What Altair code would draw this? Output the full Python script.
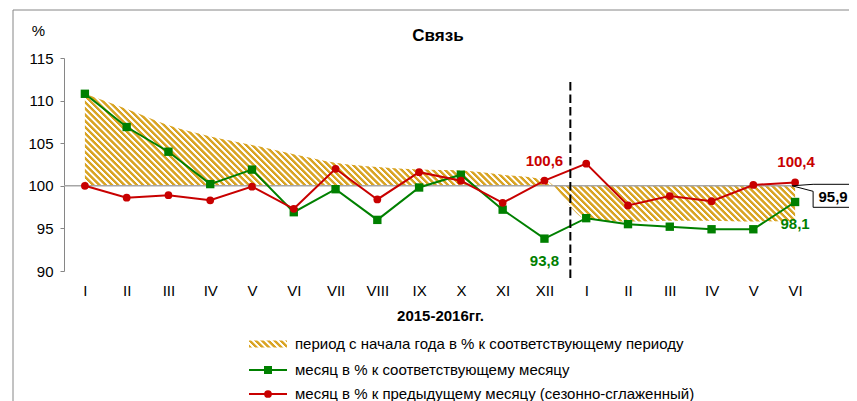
import altair as alt
import pandas as pd

# ---------------- data ----------------
months = ["I", "II", "III", "IV", "V", "VI", "VII", "VIII", "IX", "X", "XI", "XII",
          "I", "II", "III", "IV", "V", "VI"]
ytd = [110.8, 109.0, 107.1, 105.8, 104.8, 103.7, 102.7, 102.2, 101.9, 101.8, 101.3, 100.7,
       96.1, 95.8, 95.9, 95.9, 95.8, 95.9]
month_yoy = [110.8, 106.9, 104.0, 100.2, 101.9, 96.9, 99.6, 96.0, 99.8, 101.3, 97.2, 93.8,
             96.2, 95.5, 95.2, 94.9, 94.9, 98.1]
month_mom = [100.0, 98.6, 98.9, 98.3, 99.9, 97.3, 102.0, 98.4, 101.6, 100.6, 98.0, 100.6,
             102.6, 97.7, 98.8, 98.2, 100.1, 100.4]
legend_labels = ["период с начала года в % к соответствующему периоду",
                 "месяц в % к соответствующему месяцу",
                 "месяц в % к предыдущему месяцу (сезонно-сглаженный)"]
chart_title = "Связь"
x_title = "2015-2016гг."
y_title = "%"
y_ticks = [90, 95, 100, 105, 110, 115]
baseline_value = 100

# ---------------- style / layout ----------------
W, H = 752, 213
Y_MIN, Y_MAX = 90, 115
N = len(months)
STEP = W / N
PXU = H / (Y_MAX - Y_MIN)
GOLD = "#D9A424"
GREEN = "#008000"
RED = "#C80000"
GRAY = "#868686"
FONT = "Liberation Sans"
DIVIDER = 11.62  # year divider position (between XII and I)
TOTAL_W, TOTAL_H = 841, 393


def hatch(w, h, period=4.4):
    """Backslash diagonal stripes as a linear gradient over the mark's bbox."""
    r = h / w
    k = (1 + r) / (1 + r * r)
    d = (w + h) / 2 ** 0.5
    n = d / period
    stops = []
    i = 0
    while i < n:
        for frac, col in [(0.0, GOLD), (0.42, GOLD), (0.58, "#FFFFFF"), (0.88, "#FFFFFF")]:
            off = (i + frac) / n
            if off <= 1:
                stops.append(alt.GradientStop(color=col, offset=off))
        i += 1
    return alt.LinearGradient(gradient="linear", stops=stops,
                              x1=0, y1=1, x2=k, y2=1 - k * r)


xs = alt.Scale(domain=[-0.5, N - 0.5], nice=False, zero=False)
ys = alt.Scale(domain=[Y_MIN, Y_MAX], nice=False, zero=False)
label_expr = "[" + ",".join(f"'{m}'" for m in months) + "][datum.value]"
x_axis = alt.Axis(values=list(range(N)), labelExpr=label_expr, ticks=False, tickSize=0,
                  domain=False, grid=False, labelPadding=12, labelFontSize=15,
                  labelColor="black", labelFlush=False, labelOverlap=False,
                  title=x_title, titleFontSize=15, titleFontWeight="bold",
                  titlePadding=10, titleColor="black")
y_axis = alt.Axis(values=y_ticks, grid=False, tickSize=4, tickColor=GRAY, domainColor=GRAY,
                  labelFontSize=15, labelPadding=7, labelColor="black",
                  title=y_title, titleAngle=0, titleX=-26, titleY=-28, titleAlign="center",
                  titleBaseline="middle", titleFontSize=15, titleFontWeight="normal",
                  titleColor="black")


def X(field="idx"):
    return alt.X(f"{field}:Q", scale=xs, axis=x_axis)


def Y(field):
    return alt.Y(f"{field}:Q", scale=ys, axis=y_axis)


df = pd.DataFrame({"idx": list(range(N)), "month": months, "ytd": ytd,
                   "yoy": month_yoy, "mom": month_mom})
base = alt.Chart(df)
one = alt.Chart(pd.DataFrame({"a": [0]}))

# area (period since start of year)
ytd_min = min(min(ytd), baseline_value)
ytd_max = max(max(ytd), baseline_value)
area = base.mark_area(
    color=hatch((N - 1) * STEP, (ytd_max - ytd_min) * PXU), interpolate="monotone"
).encode(x=X(), y=Y("ytd"), y2=alt.datum(baseline_value))

# baseline 100
base_line = alt.Chart(pd.DataFrame({"v": [baseline_value]})).mark_rule(
    color="#A6A6A6", strokeWidth=1.5).encode(y=Y("v"))

green_line = base.mark_line(color=GREEN, strokeWidth=2).encode(x=X(), y=Y("yoy"))
green_pts = base.mark_square(color=GREEN, size=70, opacity=1).encode(x=X(), y=Y("yoy"))
red_line = base.mark_line(color=RED, strokeWidth=2).encode(x=X(), y=Y("mom"))
red_pts = base.mark_circle(color=RED, size=60, opacity=1).encode(x=X(), y=Y("mom"))

divider = one.mark_rule(color="black", strokeWidth=2, strokeDash=[8.5, 4]).encode(
    x=alt.datum(DIVIDER), y=alt.value(24), y2=alt.value(221))


def ann(i, series, color, dx, dy):
    v = df[series][i]
    d = pd.DataFrame({"idx": [i], "v": [v], "t": [f"{v:.1f}".replace(".", ",")]})
    return alt.Chart(d).mark_text(color=color, fontSize=15, fontWeight="bold",
                                  dx=dx, dy=dy).encode(x=X(), y=Y("v"), text="t:N")


labels = [
    ann(11, "mom", RED, 0, -20),
    ann(11, "yoy", GREEN, 0, 22),
    ann(17, "mom", RED, 1, -20),
    ann(17, "yoy", GREEN, 0, 22),
]

# callout for last ytd value
last = N - 1
call_df = pd.DataFrame({"idx": [last], "v": [baseline_value],
                        "t": [f"{ytd[last]:.1f}".replace(".", ",")]})
callout = alt.Chart(call_df).mark_point(
    shape="M-3,0 L18,-1.5 L66,-1.5 L66,21.5 L18,21.5 L18,5.5 Z",
    size=4, filled=True, fill="white", stroke="black", strokeWidth=1, opacity=1
).encode(x=X(), y=Y("v"))
callout_text = alt.Chart(call_df).mark_text(
    color="black", fontSize=15, fontWeight="bold", dx=38, dy=11.5
).encode(x=X(), y=Y("v"), text="t:N")

# chart title as text
title_mark = one.mark_text(fontSize=17, fontWeight="bold", color="black",
                           baseline="alphabetic", align="center").encode(
    x=alt.value(W / 2 - 2), y=alt.value(-17), text=alt.value(chart_title))

# outer frame
frame = one.mark_rect(fillOpacity=0, stroke=GRAY, strokeWidth=1).encode(
    x=alt.value(-51), x2=alt.value(950), y=alt.value(-48), y2=alt.value(450))

# legend
LX0, LX1, LTX = 185, 223, 231
LY = [286, 312, 336]
leg_hatch = one.mark_rect(color=hatch(LX1 - LX0, 7)).encode(
    x=alt.value(LX0), x2=alt.value(LX1), y=alt.value(LY[0] - 3.5), y2=alt.value(LY[0] + 3.5))
leg_g_line = one.mark_rule(color=GREEN, strokeWidth=2).encode(
    x=alt.value(LX0), x2=alt.value(LX1), y=alt.value(LY[1]))
leg_g_pt = one.mark_square(color=GREEN, size=64, opacity=1).encode(
    x=alt.value((LX0 + LX1) / 2), y=alt.value(LY[1]))
leg_r_line = one.mark_rule(color=RED, strokeWidth=2).encode(
    x=alt.value(LX0), x2=alt.value(LX1), y=alt.value(LY[2]))
leg_r_pt = one.mark_circle(color=RED, size=60, opacity=1).encode(
    x=alt.value((LX0 + LX1) / 2), y=alt.value(LY[2]))
leg_texts = [
    one.mark_text(align="left", baseline="middle", fontSize=15, color="black").encode(
        x=alt.value(LTX), y=alt.value(LY[k]), text=alt.value(legend_labels[k]))
    for k in range(3)
]

chart = alt.layer(
    frame, area, base_line, green_line, green_pts, red_line, red_pts, divider,
    *labels, callout, callout_text, title_mark,
    leg_hatch, leg_g_line, leg_g_pt, leg_r_line, leg_r_pt, *leg_texts
).properties(
    width=W, height=H,
    autosize=alt.AutoSizeParams(type="none"),
    padding={"left": 56, "top": 50, "right": TOTAL_W - 56 - W, "bottom": TOTAL_H - 50 - H},
).configure(font=FONT).configure_view(stroke=None)

chart.save("out.html", embed_options={"renderer": "svg", "actions": False})
